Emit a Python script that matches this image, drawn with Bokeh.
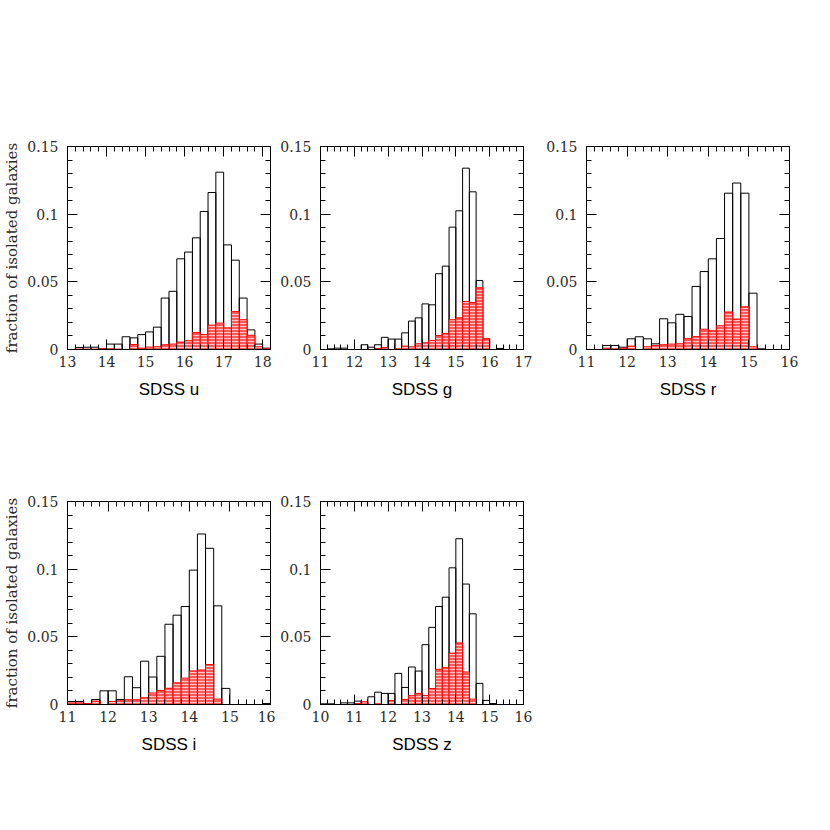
from bokeh.plotting import figure
from bokeh.layouts import column, row
from bokeh.models import LinearAxis, SingleIntervalTicker, CustomJSTickFormatter, Range1d
from bokeh.embed import file_html
from bokeh.resources import INLINE

BIN = 0.2

# SDSS u : bins from 13.0, width 0.2
u_start = 13.0
u_all = [0.0, 0.0015, 0.0017, 0.0017, 0.0005, 0.004, 0.004, 0.0094, 0.0086, 0.011,
         0.013, 0.0165, 0.038, 0.043, 0.067, 0.072, 0.0825, 0.102, 0.116, 0.131,
         0.0773, 0.066, 0.038, 0.0145, 0.004, 0.001]
u_iso = [0.0, 0.0003, 0.0003, 0.0003, 0.0005, 0.0005, 0.0003, 0.0, 0.0037, 0.001,
         0.0018, 0.002, 0.0035, 0.004, 0.0055, 0.0065, 0.0125, 0.011, 0.018, 0.0195,
         0.016, 0.028, 0.022, 0.0105, 0.002, 0.0005]

# SDSS g : bins from 11.0
g_start = 11.0
g_all = [0.0, 0.0005, 0.001, 0.001, 0.0, 0.0, 0.0035, 0.0017, 0.0035, 0.009,
         0.0077, 0.0077, 0.0123, 0.021, 0.0234, 0.0337, 0.033, 0.056, 0.0616, 0.0904,
         0.1025, 0.134, 0.1165, 0.051, 0.0079, 0.0, 0.0008, 0.0, 0.0, 0.0]
g_iso = [0.0, 0.0, 0.0, 0.0, 0.0, 0.0, 0.0, 0.0, 0.0008, 0.0015,
         0.0, 0.0005, 0.0025, 0.002, 0.0042, 0.005, 0.0067, 0.0103, 0.0118, 0.022,
         0.0234, 0.0355, 0.0347, 0.0456, 0.0079, 0.0, 0.0, 0.0, 0.0, 0.0]

# SDSS r : bins from 11.0
r_start = 11.0
r_all = [0.0, 0.0, 0.003, 0.003, 0.0017, 0.0079, 0.0094, 0.0079, 0.0042, 0.0227,
         0.0197, 0.026, 0.0244, 0.0466, 0.0576, 0.067, 0.082, 0.1155, 0.123, 0.1155,
         0.0416, 0.0005, 0.0, 0.0, 0.0]
r_iso = [0.0, 0.0, 0.001, 0.0005, 0.001, 0.0025, 0.0, 0.002, 0.003, 0.0035,
         0.004, 0.0042, 0.008, 0.0095, 0.015, 0.0138, 0.0175, 0.0277, 0.0225, 0.0315,
         0.002, 0.0, 0.0, 0.0, 0.0]

# SDSS i : bins from 11.0
i_start = 11.0
i_all = [0.0022, 0.0022, 0.0007, 0.0037, 0.0101, 0.0101, 0.0037, 0.0205, 0.0124, 0.032,
         0.0203, 0.0356, 0.0593, 0.066, 0.0724, 0.0993, 0.126, 0.1154, 0.0729, 0.0119,
         0.0, 0.0, 0.0, 0.0, 0.0007]
i_iso = [0.0012, 0.0012, 0.0005, 0.0025, 0.0, 0.0022, 0.0027, 0.0035, 0.0035, 0.005,
         0.0085, 0.0103, 0.012, 0.016, 0.0195, 0.0248, 0.0255, 0.0295, 0.004, 0.0,
         0.0, 0.0, 0.0, 0.0, 0.0]

# SDSS z : bins from 10.0
z_start = 10.0
z_all = [0.0005, 0.0005, 0.0, 0.0012, 0.0012, 0.0025, 0.0012, 0.0057, 0.0091, 0.0082,
         0.0082, 0.023, 0.0126, 0.0277, 0.0247, 0.0442, 0.057, 0.0724, 0.0793, 0.101,
         0.1225, 0.089, 0.067, 0.0156, 0.003, 0.0007, 0.0, 0.0, 0.0, 0.0]
z_iso = [0.0, 0.0, 0.0, 0.0, 0.0, 0.0007, 0.002, 0.0, 0.0005, 0.0,
         0.003, 0.0, 0.0037, 0.0065, 0.0082, 0.0067, 0.0118, 0.026, 0.0272, 0.038,
         0.0455, 0.024, 0.004, 0.0, 0.0, 0.0, 0.0, 0.0, 0.0, 0.0]

x_ranges = {"u": (13.0, 18.2), "g": (11.0, 17.0), "r": (11.0, 16.0), "i": (11.0, 16.0), "z": (10.0, 16.0)}
y_max = 0.15
y_label = "fraction of isolated galaxies"

TICK_FONT = "DejaVu Serif"
LABEL_FONT = "Liberation Sans"

fmt_code = "return String(Number(tick.toFixed(4)));"


def style_axis(ax, interval, show_labels=True, standoff=6):
    ax.ticker = SingleIntervalTicker(interval=interval, num_minor_ticks=5)
    ax.major_tick_in = 10
    ax.major_tick_out = 0
    ax.minor_tick_in = 5
    ax.minor_tick_out = 0
    ax.axis_line_color = "black"
    ax.major_tick_line_color = "black"
    ax.minor_tick_line_color = "black"
    ax.formatter = CustomJSTickFormatter(code=fmt_code)
    if show_labels:
        ax.major_label_text_font = TICK_FONT
        ax.major_label_text_font_size = "14px"
        ax.major_label_text_color = "#2a2a2a"
        ax.major_label_standoff = standoff
    else:
        ax.major_label_text_font_size = "0px"
        ax.major_label_standoff = 0


def panel(band, start, all_vals, iso_vals, bl, br, bt, bb, ylab):
    x0, x1 = x_ranges[band]
    p = figure(frame_width=203, frame_height=203,
               x_range=Range1d(x0, x1), y_range=Range1d(0, y_max * 1.000001),
               output_backend="svg", toolbar_location=None,
               min_border_left=bl, min_border_right=br,
               min_border_top=bt, min_border_bottom=bb)
    p.xgrid.visible = False
    p.ygrid.visible = False
    p.outline_line_color = "black"
    p.outline_line_width = 1
    p.background_fill_color = "white"
    p.border_fill_color = "white"

    lefts = [start + k * BIN for k in range(len(all_vals))]
    rights = [x + BIN for x in lefts]
    p.quad(left=lefts, right=rights, bottom=0, top=all_vals,
           fill_color=None, line_color="black", line_width=1)
    p.quad(left=lefts, right=rights, bottom=0, top=iso_vals,
           fill_color="#ff5a5a", fill_alpha=1.0,
           hatch_pattern="horizontal_line", hatch_color="#ffc4c4",
           hatch_scale=3, hatch_weight=1,
           line_color="#ff0000", line_width=1)

    xb = p.xaxis[0]
    yl = p.yaxis[0]
    style_axis(xb, 1, standoff=6)
    style_axis(yl, 0.05, standoff=9)
    top_ax = LinearAxis()
    style_axis(top_ax, 1, show_labels=False)
    right_ax = LinearAxis()
    style_axis(right_ax, 0.05, show_labels=False)
    p.add_layout(top_ax, "above")
    p.add_layout(right_ax, "right")

    xb.axis_label = "SDSS " + band
    xb.axis_label_text_font = LABEL_FONT
    xb.axis_label_text_font_size = "17px"
    xb.axis_label_text_font_style = "normal"
    xb.axis_label_text_color = "black"
    xb.axis_label_standoff = 10
    if ylab:
        yl.axis_label = y_label
        yl.axis_label_text_font = TICK_FONT
        yl.axis_label_text_font_size = "15px"
        yl.axis_label_text_font_style = "normal"
        yl.axis_label_text_color = "#2a2a2a"
        yl.axis_label_standoff = 3
    return p


p_u = panel("u", u_start, u_all, u_iso, 65, 5, 146, 60, True)
p_g = panel("g", g_start, g_all, g_iso, 45, 10, 146, 60, False)
p_r = panel("r", r_start, r_all, r_iso, 53, 10, 146, 60, False)
p_i = panel("i", i_start, i_all, i_iso, 65, 5, 92, 60, True)
p_z = panel("z", z_start, z_all, z_iso, 45, 10, 92, 60, False)

layout = column(row(p_u, p_g, p_r, spacing=0), row(p_i, p_z, spacing=0), spacing=0)

open("out.html", "w").write(file_html(layout, INLINE))
